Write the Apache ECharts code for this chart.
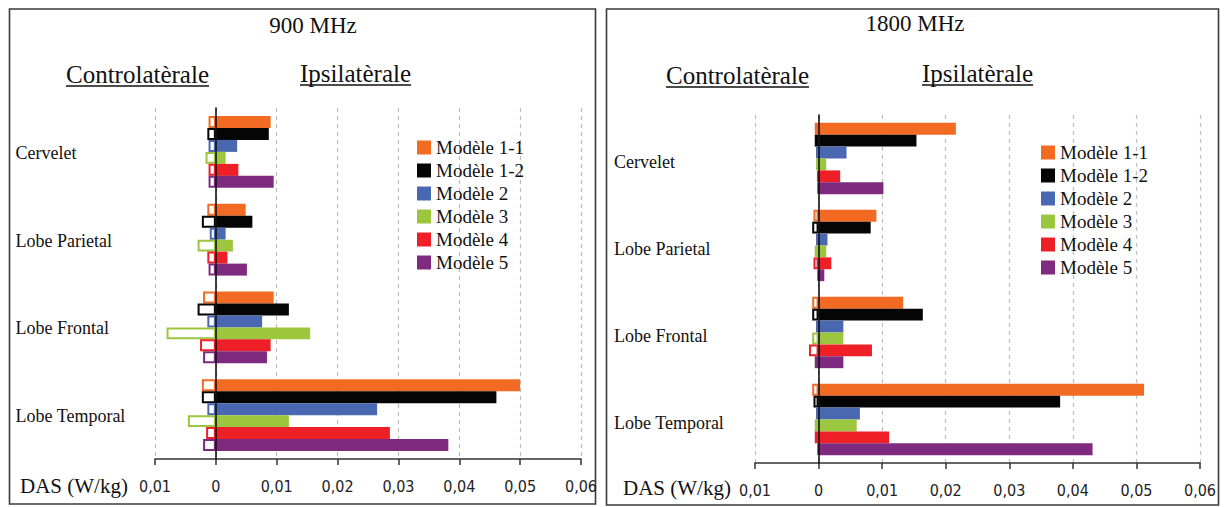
<!DOCTYPE html>
<html>
<head>
<meta charset="utf-8">
<script src="https://cdn.jsdelivr.net/npm/echarts@6/dist/echarts.min.js"></script>
<style>
  html, body { margin: 0; padding: 0; background: #fff; }
  #chart { width: 1224px; height: 507px; }
</style>
</head>
<body>
<div id="chart"></div>
<script>
// Brain regions (top to bottom) and exposure models
const categories = ['Cervelet', 'Lobe Parietal', 'Lobe Frontal', 'Lobe Temporal'];
const models = ['Modèle 1-1', 'Modèle 1-2', 'Modèle 2', 'Modèle 3', 'Modèle 4', 'Modèle 5'];
const modelColors = ['#F36A22', '#050505', '#4A68B1', '#9BC63D', '#EE1F27', '#7E2A7E'];

// Axis ticks (W/kg), labels shown as absolute values
const tickValues = [-0.01, 0, 0.01, 0.02, 0.03, 0.04, 0.05, 0.06];
const panelTitles = ['900 MHz', '1800 MHz'];
const sideHeadings = ['Controlatèrale', 'Ipsilatèrale'];
const axisName = 'DAS (W/kg)';

// 900 MHz — ipsilateral side (positive), one array per model, one value per region
const ipsi900_m11 = [0.0090, 0.0049, 0.0095, 0.0500];
const ipsi900_m12 = [0.0087, 0.0060, 0.0120, 0.0461];
const ipsi900_m2  = [0.0035, 0.0016, 0.0076, 0.0265];
const ipsi900_m3  = [0.0016, 0.0028, 0.0155, 0.0120];
const ipsi900_m4  = [0.0037, 0.0019, 0.0090, 0.0286];
const ipsi900_m5  = [0.0095, 0.0051, 0.0084, 0.0382];
// 900 MHz — contralateral side (plotted to the left of zero)
const contra900_m11 = [-0.0012, -0.0014, -0.0021, -0.0023];
const contra900_m12 = [-0.0014, -0.0023, -0.0030, -0.0023];
const contra900_m2  = [-0.0012, -0.0010, -0.0014, -0.0014];
const contra900_m3  = [-0.0017, -0.0030, -0.0081, -0.0046];
const contra900_m4  = [-0.0012, -0.0014, -0.0026, -0.0016];
const contra900_m5  = [-0.0012, -0.0012, -0.0021, -0.0021];

// 1800 MHz — ipsilateral side
const ipsi1800_m11 = [0.0216, 0.0091, 0.0133, 0.0512];
const ipsi1800_m12 = [0.0154, 0.0082, 0.0164, 0.0380];
const ipsi1800_m2  = [0.0044, 0.0014, 0.0039, 0.0065];
const ipsi1800_m3  = [0.0012, 0.0012, 0.0039, 0.0060];
const ipsi1800_m4  = [0.0034, 0.0020, 0.0084, 0.0111];
const ipsi1800_m5  = [0.0102, 0.0009, 0.0039, 0.0431];
// 1800 MHz — contralateral side
const contra1800_m11 = [-0.0006, -0.0008, -0.0010, -0.0010];
const contra1800_m12 = [-0.0006, -0.0010, -0.0010, -0.0008];
const contra1800_m2  = [-0.0004, -0.0004, -0.0004, -0.0004];
const contra1800_m3  = [-0.0004, -0.0006, -0.0010, -0.0006];
const contra1800_m4  = [-0.0002, -0.0008, -0.0015, -0.0006];
const contra1800_m5  = [-0.0001, -0.0001, -0.0006, -0.0001];

const ipsi900 = [ipsi900_m11, ipsi900_m12, ipsi900_m2, ipsi900_m3, ipsi900_m4, ipsi900_m5];
const contra900 = [contra900_m11, contra900_m12, contra900_m2, contra900_m3, contra900_m4, contra900_m5];
const ipsi1800 = [ipsi1800_m11, ipsi1800_m12, ipsi1800_m2, ipsi1800_m3, ipsi1800_m4, ipsi1800_m5];
const contra1800 = [contra1800_m11, contra1800_m12, contra1800_m2, contra1800_m3, contra1800_m4, contra1800_m5];

const SERIF = 'Liberation Serif, Times New Roman, serif';
const NARROW = 'Liberation Sans Narrow, DejaVu Sans Condensed, sans-serif';

// Panel layout (pixels)
const panels = [
  { box: [9.5, 9, 586, 495], grid: { left: 155, top: 108, width: 426, height: 351 },
    titleX: 313, titleY: 25, catX: 15.5, catDy: 1,
    heads: [[66, 74, 86], [300, 73, 85]], legend: { left: 417, top: 138 },
    nameX: 20, nameY: 486 },
  { box: [606.5, 9, 612, 496], grid: { left: 755, top: 115, width: 445, height: 348 },
    titleX: 915, titleY: 23, catX: 614, catDy: 3,
    heads: [[666, 75, 87], [922, 73, 85]], legend: { left: 1041, top: 143 },
    nameX: 623, nameY: 488 }
];
const panelIpsi = [ipsi900, ipsi1800];
const panelContra = [contra900, contra1800];

function fmtTick(v) {
  if (Math.abs(v) < 1e-9) return '0';
  return Math.abs(v).toFixed(2).replace('.', ',');
}

const measureCtx = document.createElement('canvas').getContext('2d');
function textWidth(txt, size) {
  measureCtx.font = size + 'px ' + SERIF;
  return measureCtx.measureText(txt).width;
}

const grids = [], xAxes = [], yAxes = [], series = [], legends = [], graphics = [];

panels.forEach((p, pi) => {
  grids.push(Object.assign({ containLabel: false, outerBoundsMode: 'none' }, p.grid));
  xAxes.push({
    type: 'value', gridIndex: pi,
    min: tickValues[0], max: tickValues[tickValues.length - 1], interval: 0.01,
    axisLine: { show: true, onZero: false, lineStyle: { color: '#333', width: 1.5 } },
    axisTick: { show: true, length: 6, lineStyle: { color: '#333', width: 1.5 } },
    axisLabel: { margin: 19, fontFamily: NARROW, fontSize: 16, color: '#222', formatter: fmtTick },
    splitLine: { show: true, lineStyle: { color: '#bdbdbd', width: 1.2, type: [4, 4] } }
  });
  yAxes.push({
    type: 'category', gridIndex: pi, data: categories, inverse: true, z: 10,
    axisLine: { show: true, onZero: true, lineStyle: { color: '#111', width: 1.6 } },
    axisTick: { show: false },
    axisLabel: { show: false },
    splitLine: { show: false }
  });

  models.forEach((m, mi) => {
    const stackId = 'p' + pi + 'm' + mi;
    series.push({
      type: 'bar', name: m, xAxisIndex: pi, yAxisIndex: pi, stack: stackId,
      data: panelIpsi[pi][mi], barCategoryGap: '18%', barGap: '0%',
      itemStyle: { color: modelColors[mi] }
    });
    series.push({
      type: 'bar', name: m, xAxisIndex: pi, yAxisIndex: pi, stack: stackId,
      data: panelContra[pi][mi], barCategoryGap: '18%', barGap: '0%',
      itemStyle: { color: '#ffffff', borderColor: modelColors[mi], borderWidth: 2 }
    });
  });

  legends.push({
    data: models, orient: 'vertical', left: p.legend.left, top: p.legend.top,
    icon: 'rect', itemWidth: 14, itemHeight: 14, itemGap: 4, padding: 0,
    selectedMode: false,
    textStyle: { fontFamily: SERIF, fontSize: 19, color: '#111', lineHeight: 14 }
  });

  // Panel frame
  graphics.push({
    type: 'rect', shape: { x: p.box[0], y: p.box[1], width: p.box[2], height: p.box[3] },
    style: { fill: 'none', stroke: '#3a3a3a', lineWidth: 1.6 }, silent: true
  });
  // Frequency title
  graphics.push({
    type: 'text', x: p.titleX, y: p.titleY,
    style: { text: panelTitles[pi], fontFamily: SERIF, fontSize: 23, fill: '#111',
             align: 'center', verticalAlign: 'middle' }
  });
  // Side headings with underline
  sideHeadings.forEach((h, hi) => {
    const [hx, hy, uy] = p.heads[hi];
    graphics.push({
      type: 'text', x: hx, y: hy,
      style: { text: h, fontFamily: SERIF, fontSize: 25, fill: '#111',
               align: 'left', verticalAlign: 'middle' }
    });
    graphics.push({
      type: 'line', shape: { x1: hx, y1: uy, x2: hx + textWidth(h, 25), y2: uy },
      style: { stroke: '#111', lineWidth: 1.5 }, silent: true
    });
  });
  // Unit label next to the tick labels
  graphics.push({
    type: 'text', x: p.nameX, y: p.nameY,
    style: { text: axisName, fontFamily: SERIF, fontSize: 21, fill: '#111',
             align: 'left', verticalAlign: 'middle' }
  });
});

const chart = echarts.init(document.getElementById('chart'), null, { renderer: 'svg' });
chart.setOption({
  animation: false,
  backgroundColor: '#ffffff',
  grid: grids,
  xAxis: xAxes,
  yAxis: yAxes,
  legend: legends,
  series: series
});

// Region names, left-aligned at the panel edge, placed on each category band
panels.forEach((p, pi) => {
  categories.forEach((cat) => {
    const y = chart.convertToPixel({ yAxisIndex: pi }, cat);
    graphics.push({
      type: 'text', x: p.catX, y: y + p.catDy,
      style: { text: cat, fontFamily: SERIF, fontSize: 18, fill: '#111',
               align: 'left', verticalAlign: 'middle' }
    });
  });
});
chart.setOption({ graphic: graphics });
</script>
</body>
</html>
